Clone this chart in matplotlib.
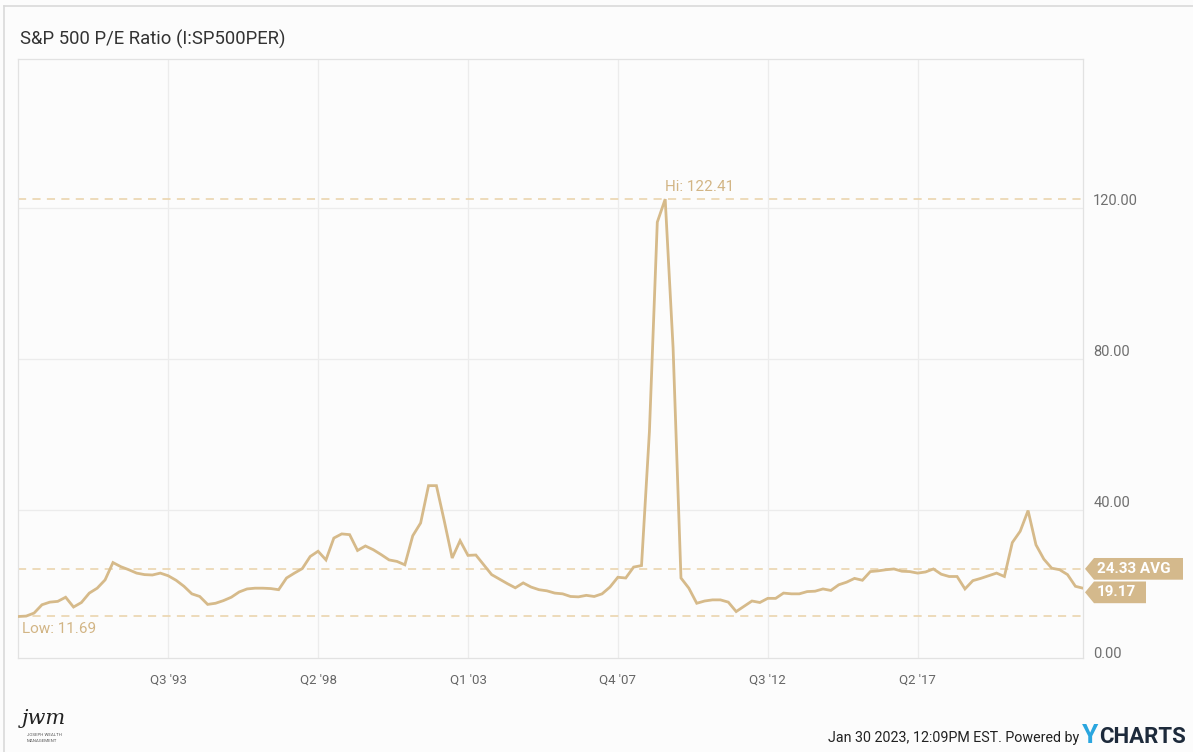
import numpy as np
import pandas as pd
import matplotlib
matplotlib.use('Agg')
import matplotlib.pyplot as plt
import matplotlib.transforms as mtransforms
from matplotlib.patches import Polygon
from matplotlib.lines import Line2D

plt.rcParams['font.family'] = ['Roboto', 'DejaVu Sans']

# quarterly S&P 500 P/E (Q4 1988 -> Q3 2022)
first_quarter = '1988Q4'
pe_ratio = [
    11.69, 11.8, 12.6, 14.8, 15.5, 15.7, 16.8, 14.2, 15.4, 17.9,
    19.2, 21.4, 26.0, 24.9, 24.1, 23.2, 22.8, 22.7, 23.2, 22.5,
    21.3, 19.7, 17.7, 17.0, 14.9, 15.2, 15.9, 16.8, 18.2, 19.0,
    19.2, 19.2, 19.1, 18.8, 21.9, 23.2, 24.4, 27.6, 29.0, 26.7,
    32.5, 33.6, 33.4, 29.2, 30.4, 29.4, 28.1, 26.7, 26.3, 25.4,
    33.1, 36.5, 46.4, 46.4, 37.0, 27.2, 31.8, 27.9, 28.0, 25.4,
    22.8, 21.6, 20.4, 19.3, 20.6, 19.5, 18.8, 18.5, 17.9, 17.7,
    17.0, 16.9, 17.3, 17.0, 17.7, 19.5, 22.1, 21.9, 24.8, 25.2,
    60.7, 116.3, 122.41, 83.0, 21.9, 19.2, 15.2, 15.8, 16.1, 16.1,
    15.5, 13.0, 14.4, 15.8, 15.4, 16.5, 16.5, 17.9, 17.7, 17.7,
    18.3, 18.4, 19.0, 18.6, 20.1, 20.8, 21.8, 21.3, 23.6, 23.8,
    24.1, 24.3, 23.7, 23.6, 23.2, 23.5, 24.3, 22.9, 22.3, 22.3,
    19.0, 21.2, 21.8, 22.5, 23.2, 22.3, 31.3, 34.3, 39.8, 30.7,
    26.9, 24.5, 24.1, 22.8, 19.7, 19.17,
]
tick_quarters = ['1993Q3', '1998Q2', '2003Q1', '2007Q4', '2012Q3', '2017Q2']
tick_labels = ["Q3 '93", "Q2 '98", "Q1 '03", "Q4 '07", "Q3 '12", "Q2 '17"]
y_ticks = [0, 40, 80, 120]
avg_pe = 24.33

LINE = '#d6ba8a'
DASH = '#ecd8b4'
TAG = '#d4b98c'
GRID = '#ececec'

W, H = 1193, 752
fig = plt.figure(figsize=(W / 100, H / 100), dpi=100, facecolor='#fcfcfc')

# plot box in pixels: x 18.3..1083.3, y 59.3..658.3 (from top)
ax = fig.add_axes([18.3 / W, 1 - 658.3 / H, 1065 / W, 599 / H])
ax.set_facecolor('#fcfcfc')

quarters = pd.period_range(first_quarter, periods=len(pe_ratio), freq='Q')
x = np.arange(len(pe_ratio))
tick_pos = [quarters.get_loc(pd.Period(q, freq='Q')) for q in tick_quarters]

ax.set_xlim(0, len(pe_ratio) - 1)
ax.set_ylim(0.6, 159.5)

for p in tick_pos:
    ax.axvline(p, color=GRID, lw=0.9, zorder=0)
for v in y_ticks[1:]:
    ax.axhline(v, color=GRID, lw=0.9, zorder=0)

for s in ax.spines.values():
    s.set_color('#e2e2e2')
    s.set_linewidth(0.9)

ax.set_xticks(tick_pos)
ax.set_xticklabels(tick_labels, fontsize=9.5, color='#666666')
ax.tick_params(axis='x', length=0, pad=11)
ax.set_yticks([])

# y labels sit just above their gridlines, right of the box
for v in y_ticks:
    ax.annotate('%.2f' % v, xy=(1.0, v), xycoords=('axes fraction', 'data'),
                xytext=(10, 7), textcoords='offset pixels',
                fontsize=10.5, color='#6f6f6f', va='center', ha='left',
                annotation_clip=False)

pe = np.array(pe_ratio)
hi_i = int(np.argmax(pe))
lo_i = int(np.argmin(pe))

# reference lines
for v in [pe[hi_i], avg_pe, pe[lo_i]]:
    ax.axhline(v, color=DASH, lw=1.3, ls=(0, (4.5, 3.5)), zorder=1)

ax.plot(x, pe, color=LINE, lw=2.0, zorder=3, solid_joinstyle='miter')

ax.annotate('Hi: %.2f' % pe[hi_i], xy=(hi_i, pe[hi_i]), xytext=(0, 5),
            textcoords='offset pixels', ha='left', va='bottom',
            fontsize=11, color='#d2b585')
ax.annotate('Low: %.2f' % pe[lo_i], xy=(lo_i, pe[lo_i]), xytext=(4, -6),
            textcoords='offset pixels', ha='left', va='top',
            fontsize=11, color='#d2b585')


# tags on the right axis, drawn in pixel space
def draw_tag(y_center, x_right, label):
    x0 = 1085
    h = 21.7
    pts = [(x0, y_center), (x0 + 9, y_center + h / 2), (x_right, y_center + h / 2),
           (x_right, y_center - h / 2), (x0 + 9, y_center - h / 2)]
    poly = Polygon(pts, closed=True, facecolor=TAG, edgecolor='none',
                   transform=mtransforms.IdentityTransform())
    fig.add_artist(poly)
    fig.text((x0 + 12) / W, y_center / H, label, color='white', fontsize=11,
             fontweight='bold', va='center', ha='left')


avg_y = ax.transData.transform((0, avg_pe))[1]
draw_tag(avg_y, 1183, '%.2f AVG' % avg_pe)
draw_tag(avg_y - 23.5, 1146, '%.2f' % pe[-1])

# title
fig.text(20 / W, 1 - 39 / H, 'S&P 500 P/E Ratio (I:SP500PER)', fontsize=13.3,
         color='#333333', va='center', ha='left')

# outer frame (top and left edges)
fig.add_artist(Line2D([4 / W, 1], [1 - 6 / H, 1 - 6 / H], transform=fig.transFigure,
                      color='#dadada', lw=1.2))
fig.add_artist(Line2D([4 / W, 4 / W], [0, 1 - 6 / H], transform=fig.transFigure,
                      color='#dadada', lw=1.2))

# footer logo (approximation)
fig.text(22 / W, 1 - 718 / H, 'jwm', fontsize=15, style='italic',
         family=['DejaVu Serif'], color='#222222', va='center', ha='left')
fig.text(27 / W, 1 - 738 / H, 'JOSEPH WEALTH\nMANAGEMENT', fontsize=3.2,
         color='#555555', va='center', ha='left', linespacing=1.4)

# footer: timestamp + YCHARTS
renderer = fig.canvas.get_renderer()
t_charts = fig.text(1186 / W, 1 - 737 / H, 'CHARTS', fontsize=16, fontweight='bold',
                    color='#1d2a3b', va='center', ha='right')
bb = t_charts.get_window_extent(renderer)
t_y = fig.text((bb.x0 - 1) / W, 1 - 736 / H, 'Y', fontsize=19, fontweight='bold',
               color='#2aa6df', va='center', ha='right')
bb = t_y.get_window_extent(renderer)
fig.text((bb.x0 - 3) / W, 1 - 738 / H, 'Jan 30 2023, 12:09PM EST. Powered by',
         fontsize=10.3, color='#222222', va='center', ha='right')

fig.savefig('out.png', dpi=100, facecolor=fig.get_facecolor())
